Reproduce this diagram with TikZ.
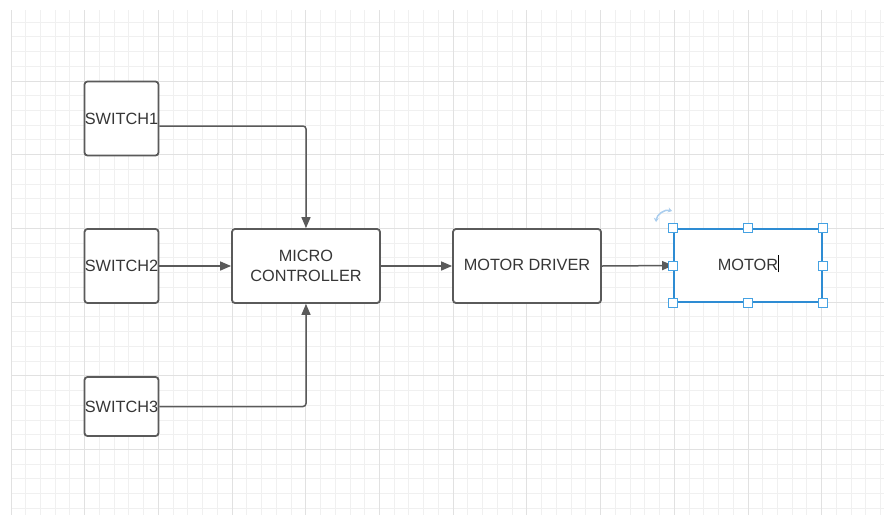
\documentclass[tikz,border=0pt]{standalone}
\usepackage{fontspec}
\setmainfont{Liberation Sans}
\usetikzlibrary{arrows.meta}

\definecolor{gridminor}{HTML}{F0F0F0}
\definecolor{gridmajor}{HTML}{E1E1E1}
\definecolor{linec}{HTML}{5A5A5A}
\definecolor{textc}{HTML}{363636}
\definecolor{selblue}{HTML}{2E8CD3}
\definecolor{handleblue}{HTML}{45A2E3}
\definecolor{rotblue}{HTML}{A9CDEE}

\begin{document}
\begin{tikzpicture}[x=1pt,y=-1pt,
  box/.style={draw=linec,line width=1.8pt,rounded corners=3pt,fill=white,
    inner sep=0pt,text=textc,align=center,
    font=\fontsize{16.3}{20}\selectfont},
  sw/.style={box,minimum width=74pt,minimum height=74pt},
  blk/.style={box,minimum width=148pt,minimum height=74pt},
  conn/.style={draw=linec,line width=1.5pt,rounded corners=3pt,
    -{Triangle[length=11pt,width=9pt]}},
  handle/.style={draw=handleblue,fill=white,line width=0.9pt,
    inner sep=0pt,minimum size=9pt},
  minor/.style={gridminor,line width=1pt},
  major/.style={gridmajor,line width=1pt},
]
\useasboundingbox[fill=white] (0,0) rectangle (884,515);

% ---------------- grid ----------------
\begin{scope}
  \clip (11,10) rectangle (884,515);
  \foreach \i in {0,...,60} \draw[minor] ({11+14.74*\i},10) -- ++(0,505);
  \foreach \j in {0,...,35} \draw[minor] (11,{7.3+14.74*\j}) -- ++(873,0);
  \foreach \i in {0,...,12} \draw[major] ({11+73.7*\i},10) -- ++(0,505);
  \foreach \j in {0,...,7} \draw[major] (11,{7.3+73.7*\j}) -- ++(873,0);
\end{scope}

% ---------------- blocks ----------------
\node[sw] (sw1) at (121.5,118.5) {SWITCH1};
\node[sw] (sw2) at (121.5,266) {SWITCH2};
\node[sw,minimum height=59pt] (sw3) at (121.5,406.5) {SWITCH3};
\node[blk] (mc) at (306,266) {MICRO\\CONTROLLER};
\node[blk] (md) at (527,266) {\raisebox{2pt}{MOTOR DRIVER}};
\node[blk,draw=selblue,minimum height=73pt] (motor) at (748,265.5)
  {\raisebox{1.5pt}{MOTOR\rlap{\smash{\textcolor{black}{\rule[-2pt]{1.3pt}{17pt}}}}}};

% ---------------- connectors ----------------
\coordinate (s1out) at ([yshift=-7.5pt]sw1.east);
\draw[conn] (s1out) -| (mc.north);
\draw[conn] (sw2.east) -- (mc.west);
\draw[conn] (sw3.east) -| (mc.south);
\draw[conn] (mc.east) -- (md.west);
\draw[conn] (md.east) -- (motor.west);

% ---------------- selection marks ----------------
\foreach \a [count=\i] in {north west,north,north east,east,south east,south,south west,west}
  \node[handle] (h\i) at (motor.\a) {};
\draw[rotblue,line width=1.5pt,
  {Stealth[length=4pt,width=5pt]}-{Stealth[length=4pt,width=5pt]}]
  (656,222) to[bend left=50] (672,211);
\end{tikzpicture}
\end{document}
